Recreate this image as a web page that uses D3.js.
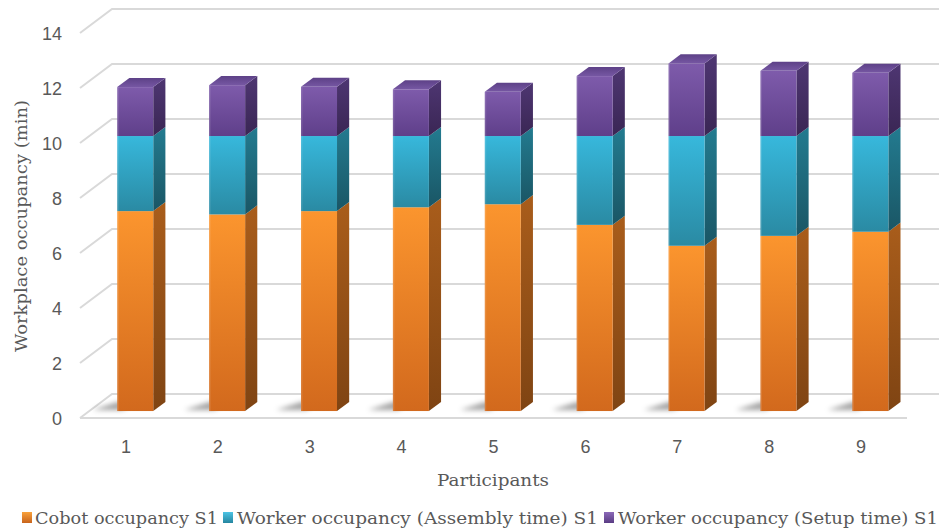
<!DOCTYPE html>
<html>
<head>
<meta charset="utf-8">
<script src="https://cdn.jsdelivr.net/npm/d3@7"></script>
<style>
  html, body { margin: 0; padding: 0; background: #fff; }
  svg { display: block; }
</style>
</head>
<body>
<svg id="chart" width="941" height="531"></svg>
<script>
// Participants and the three stacked components (minutes)
const participants = ["1", "2", "3", "4", "5", "6", "7", "8", "9"];
const cobotOccupancy = [7.27, 7.15, 7.27, 7.41, 7.52, 6.77, 6.01, 6.37, 6.52];
const assemblyTime   = [2.73, 2.85, 2.73, 2.59, 2.48, 3.23, 3.99, 3.63, 3.48];
const setupTime      = [1.78, 1.85, 1.79, 1.70, 1.61, 2.18, 2.64, 2.37, 2.30];
const yTicks = [0, 2, 4, 6, 8, 10, 12, 14];
const seriesNames = [
  "Cobot occupancy S1",
  "Worker occupancy (Assembly time) S1",
  "Worker occupancy (Setup time) S1"
];

const svg = d3.select("#chart");

// Oblique projection of the 3D box: depth 0 = front plane, depth 1 = back wall
const depthDX = 32, depthDY = -24;
const x = d3.scalePoint().domain(participants).range([80, 907]).padding(0.5);
const y = d3.scaleLinear().domain([0, 14]).range([418, 33]);
const barW = x.step() * 0.392;
const barFront = 0.29, barBack = 0.67;
const P = (px, v, d) => [px + d * depthDX, y(v) + d * depthDY];

// Colour gradients per series: front face, side face, legend key
const palette = [
  { front: ["#fb952e", "#d2691d"], side: ["#a95d1b", "#7f4413"], key: ["#f9a23c", "#c8641c"] },
  { front: ["#37b8dc", "#2a8aa3"], side: ["#237b90", "#1a5665"], key: ["#4cc3e4", "#2686a0"] },
  { front: ["#7e5bab", "#5f3f8a"], side: ["#4e3672", "#3a2654"], key: ["#8c6ab8", "#5a3c84"] }
];
const defs = svg.append("defs");
palette.forEach((c, i) => {
  ["front", "side", "key"].forEach(part => {
    const g = defs.append("linearGradient").attr("id", `g${i}${part}`)
      .attr("x1", 0).attr("y1", 0).attr("x2", 0).attr("y2", 1);
    g.append("stop").attr("offset", "0%").attr("stop-color", c[part][0]);
    g.append("stop").attr("offset", "100%").attr("stop-color", c[part][1]);
  });
});
const topGrad = defs.append("linearGradient").attr("id", "gTop")
  .attr("x1", 0).attr("y1", 1).attr("x2", 0).attr("y2", 0);
topGrad.append("stop").attr("offset", "0%").attr("stop-color", "#7657a3");
topGrad.append("stop").attr("offset", "100%").attr("stop-color", "#5d4187");
defs.append("filter").attr("id", "blur").attr("x", "-50%").attr("y", "-100%")
  .attr("width", "200%").attr("height", "300%")
  .append("feGaussianBlur").attr("stdDeviation", 2.6);

const line = d3.line();

// Back wall / side wall gridlines
const grid = svg.append("g").attr("fill", "none").attr("stroke", "#d9d9d9").attr("stroke-width", 2);
yTicks.forEach(v => {
  grid.append("path").attr("d", line([
    P(80, v, 0), P(80, v, 1), [939, y(v) + depthDY]
  ]));
});
// Floor front edge
grid.append("path").attr("d", line([P(80, 0, 0), P(907, 0, 0)]));

// Soft floor shadows beside each bar
const shadows = svg.append("g").attr("filter", "url(#blur)");
participants.forEach(p => {
  const xl = x(p) - barW / 2;
  shadows.append("path")
    .attr("d", line([
      P(xl - 26, 0, barFront + 0.04), P(xl + 4, 0, barFront + 0.04),
      P(xl + 4, 0, barBack), P(xl - 12, 0, barBack)
    ]) + "Z")
    .attr("fill", "#000").attr("opacity", 0.36);
});

// Stacked 3D bars
const stackData = participants.map((p, i) => ({
  p, parts: [cobotOccupancy[i], assemblyTime[i], setupTime[i]]
}));
const bars = svg.append("g");
stackData.forEach(d => {
  const xl = x(d.p) - barW / 2, xr = x(d.p) + barW / 2;
  let base = 0;
  d.parts.forEach((val, s) => {
    const top = base + val;
    const g = bars.append("g");
    // side face
    g.append("path").attr("d", line([
      P(xr, base, barFront), P(xr, top, barFront), P(xr, top, barBack), P(xr, base, barBack)
    ]) + "Z").attr("fill", `url(#g${s}side)`);
    // front face
    const [fx0, fy1] = P(xl, top, barFront);
    const [, fy0] = P(xl, base, barFront);
    g.append("rect").attr("x", fx0).attr("y", fy1)
      .attr("width", barW).attr("height", fy0 - fy1)
      .attr("fill", `url(#g${s}front)`);
    // subtle highlight along the left edge of the front face
    g.append("rect").attr("x", fx0).attr("y", fy1).attr("width", 1.5)
      .attr("height", fy0 - fy1).attr("fill", "#fff").attr("opacity", 0.12);
    if (s === d.parts.length - 1) {
      g.append("path").attr("d", line([
        P(xl, top, barFront), P(xr, top, barFront), P(xr, top, barBack), P(xl, top, barBack)
      ]) + "Z").attr("fill", "url(#gTop)");
    }
    base = top;
  });
});

// Y tick labels
const tickFont = "'Liberation Sans', Arial, sans-serif";
svg.append("g").selectAll("text").data(yTicks).join("text")
  .attr("x", 62).attr("y", v => y(v) + 6.5)
  .attr("text-anchor", "end")
  .attr("font-family", tickFont).attr("font-size", 18).attr("fill", "#595959")
  .text(v => v);

// X tick labels
svg.append("g").selectAll("text").data(participants).join("text")
  .attr("x", p => x(p)).attr("y", 453)
  .attr("text-anchor", "middle")
  .attr("font-family", tickFont).attr("font-size", 18).attr("fill", "#595959")
  .text(p => p);

// Axis titles
const serif = "'DejaVu Serif', 'Liberation Serif', serif";
svg.append("text")
  .attr("transform", "translate(27,226) rotate(-90)")
  .attr("text-anchor", "middle")
  .attr("font-family", serif).attr("font-size", 17).attr("fill", "#595959")
  .attr("textLength", 252).attr("lengthAdjust", "spacingAndGlyphs")
  .text("Workplace occupancy (min)");
svg.append("text")
  .attr("x", 493).attr("y", 486)
  .attr("text-anchor", "middle")
  .attr("font-family", serif).attr("font-size", 17).attr("fill", "#595959")
  .attr("textLength", 112).attr("lengthAdjust", "spacingAndGlyphs")
  .text("Participants");

// Legend
const legendItems = [
  { mx: 22, tx: 35, tw: 183 },
  { mx: 223, tx: 237, tw: 361 },
  { mx: 604, tx: 618, tw: 320 }
];
const legend = svg.append("g");
legendItems.forEach((it, i) => {
  legend.append("rect").attr("x", it.mx).attr("y", 512).attr("width", 10).attr("height", 11)
    .attr("fill", `url(#g${i}key)`);
  legend.append("text").attr("x", it.tx).attr("y", 524)
    .attr("font-family", serif).attr("font-size", 17).attr("fill", "#595959")
    .attr("textLength", it.tw).attr("lengthAdjust", "spacingAndGlyphs")
    .text(seriesNames[i]);
});
</script>
</body>
</html>
